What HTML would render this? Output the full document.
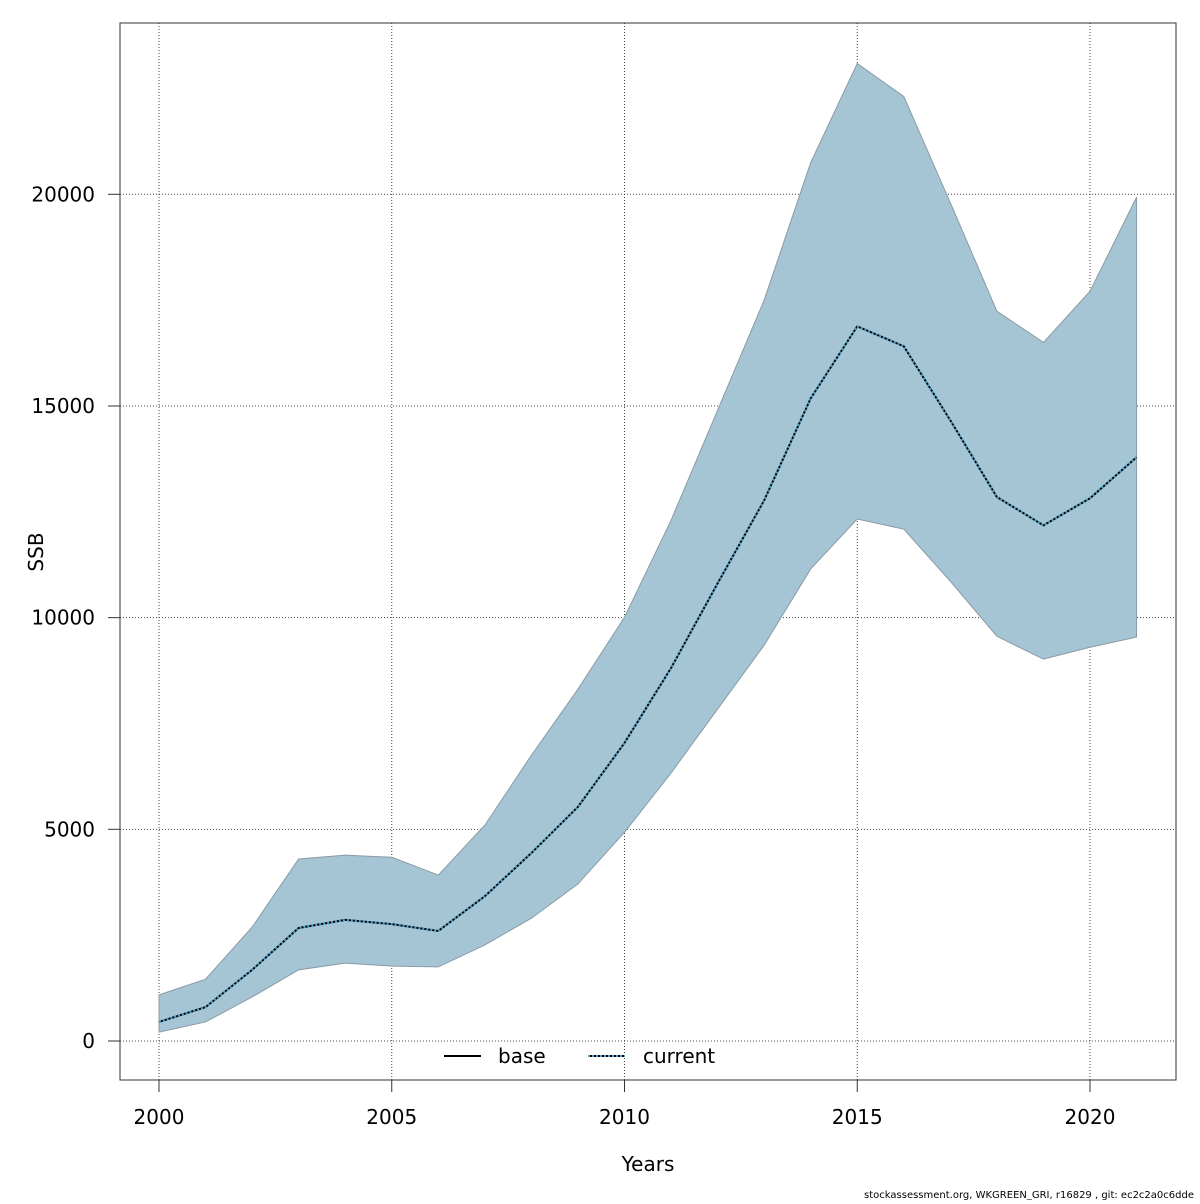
<!DOCTYPE html>
<html><head><meta charset="utf-8"><style>
body{margin:0;background:#fff;font-family:"DejaVu Sans","Liberation Sans",sans-serif}
</style></head><body>
<svg id="chart" width="1200" height="1200" xmlns="http://www.w3.org/2000/svg" font-family="DejaVu Sans, Liberation Sans, sans-serif">
<rect width="1200" height="1200" fill="#fff"/>
<g id="grid"></g>
<g id="marks"></g>
<rect x="120" y="23" width="1056" height="1057" fill="none" stroke="#333" stroke-width="1"/>
<g id="axes"></g>
<text x="648" y="1171" font-size="20" text-anchor="middle">Years</text>
<text transform="translate(43,552) rotate(-90)" font-size="20" text-anchor="middle">SSB</text>
<g>
<line x1="444" y1="1056" x2="481" y2="1056" stroke="#000" stroke-width="2"/>
<text x="498" y="1063" font-size="20">base</text>
<line x1="588" y1="1056" x2="625" y2="1056" stroke="#000" stroke-width="2"/>
<line x1="588" y1="1056" x2="625" y2="1056" stroke="#4aa3cf" stroke-width="2" stroke-dasharray="2 2"/>
<text x="643" y="1063" font-size="20">current</text>
</g>
<text x="1194" y="1198" font-size="10" text-anchor="end">stockassessment.org, WKGREEN_GRI, r16829 , git: ec2c2a0c6dde</text>
</svg>
<script>
const years=[2000,2001,2002,2003,2004,2005,2006,2007,2008,2009,2010,2011,2012,2013,2014,2015,2016,2017,2018,2019,2020,2021];
const upper=[1090,1460,2690,4300,4390,4340,3920,5100,6750,8310,10010,12300,14900,17500,20750,23090,22310,19800,17240,16500,17710,19930];
const lower=[210,450,1040,1680,1840,1770,1750,2270,2900,3710,4930,6330,7840,9350,11150,12330,12090,10860,9560,9020,9300,9540];
const ssb=[450,800,1680,2670,2860,2760,2600,3420,4440,5530,7040,8810,10810,12770,15180,16880,16410,14660,12850,12180,12820,13790];
const xTicks=[2000,2005,2010,2015,2020];
const yTicks=[0,5000,10000,15000,20000];
const NS="http://www.w3.org/2000/svg";
const X=v=>159+(v-2000)*46.55;
const Y=v=>1041-v*0.042335;
function mk(tag,attrs,parent){const e=document.createElementNS(NS,tag);for(const k in attrs)e.setAttribute(k,attrs[k]);parent.appendChild(e);return e;}
const grid=document.getElementById('grid'),marks=document.getElementById('marks'),axes=document.getElementById('axes');
xTicks.forEach(t=>{
 const g=mk('line',{x1:X(t),x2:X(t),y1:23,y2:1080,stroke:'#444','stroke-dasharray':'1 2'},grid);
 
 
 const tk=mk('line',{x1:X(t),x2:X(t),y1:1080,y2:1092,stroke:'#333'},axes);
 
 
 const tx=mk('text',{x:X(t),y:1124,'font-size':20,'text-anchor':'middle'},axes);tx.textContent=t;
 
 
});
yTicks.forEach(t=>{
 const g=mk('line',{x1:120,x2:1176,y1:Y(t),y2:Y(t),stroke:'#444','stroke-dasharray':'1 2'},grid);
 
 
 const tk=mk('line',{x1:108,x2:120,y1:Y(t),y2:Y(t),stroke:'#333'},axes);
 
 
 const tx=mk('text',{x:95,y:Y(t)+7,'font-size':20,'text-anchor':'end'},axes);tx.textContent=t;
 
 
});
let d=years.map((y,i)=>(i?'L':'M')+X(y)+','+Y(upper[i])).join('');
for(let i=years.length-1;i>=0;i--)d+='L'+X(years[i])+','+Y(lower[i]);
const band=mk('path',{d:d+'Z',fill:'#a5c4d4',stroke:'#8a9ba5','stroke-width':1},marks);


const pts=years.map((y,i)=>X(y)+','+Y(ssb[i])).join(' ');
const base=mk('polyline',{points:pts,fill:'none',stroke:'#000','stroke-width':2},marks);


const cur=mk('polyline',{points:pts,fill:'none',stroke:'#4aa3cf','stroke-width':2,'stroke-dasharray':'2 2'},marks);


</script>
</body></html>
